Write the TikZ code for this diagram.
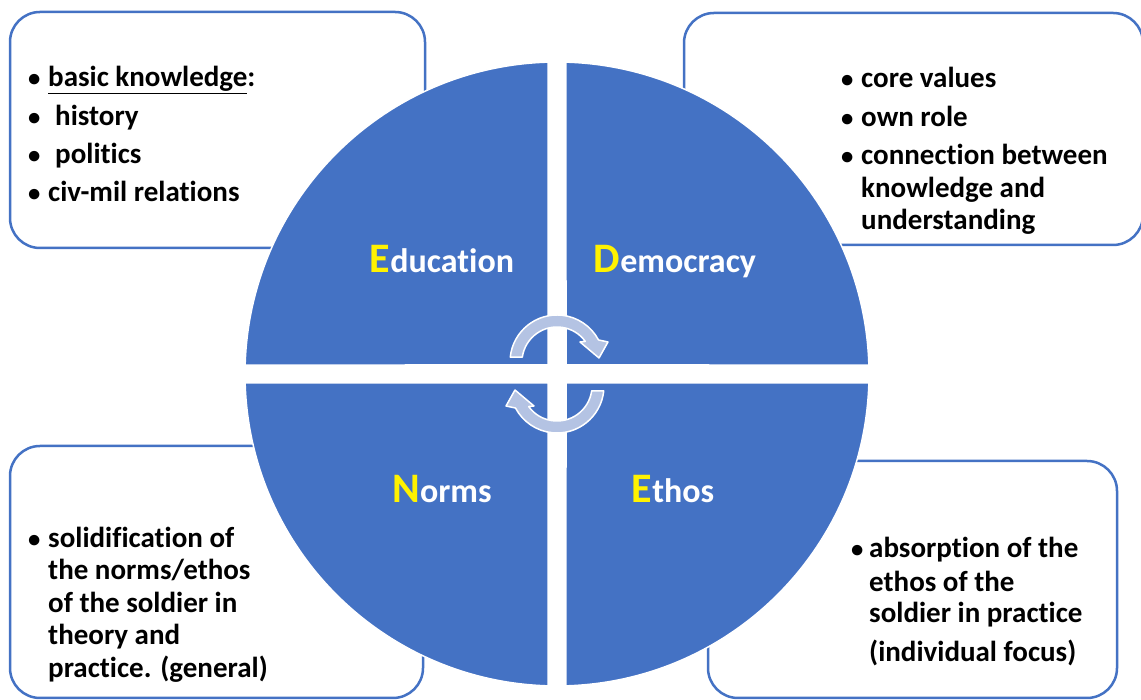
\documentclass[tikz,border=0pt]{standalone}
\usepackage{fontspec}
\setmainfont{Carlito}[Ligatures=NoCommon]
\usetikzlibrary{calc}
\usepackage{xcolor}
\definecolor{edblue}{HTML}{4472C4}
\definecolor{edpale}{HTML}{B4C3E3}

\begin{document}
\begin{tikzpicture}[x=1pt,y=1pt,
	box/.style={draw=edblue,line width=2.5pt,rounded corners=30pt,fill=white,inner sep=0pt},
	ln/.style={anchor=base west,inner sep=0pt,font=\bfseries\fontsize{29}{29}\selectfont},
	lbl/.style={anchor=base,inner sep=0pt,text=white,font=\bfseries\fontsize{34}{34}\selectfont}]
	\useasboundingbox (0,0) rectangle (1141,700);
	\coordinate (c) at (557,326);

	\node[box,minimum width=415,minimum height=236] (edubox) at (217.5,570) {};
	\node[box,minimum width=459,minimum height=232] (dembox) at (913.5,571) {};
	\node[box,minimum width=413,minimum height=252] (norbox) at (216.5,128) {};
	\node[box,minimum width=409,minimum height=237] (ethbox) at (912.5,120.5) {};

	\foreach \n/\x/\y in {edu-b1/28/613, edu-b2/28/574, edu-b3/28/536, edu-b4/28/498,
			dem-b1/841/612, dem-b2/841/573, dem-b3/841/535, nor-b1/28/152, eth-b1/851/142} {
		\node[ln] (\n) at (\x,\y) {\scalebox{0.85}{\textbullet}};
	};
	\foreach \n/\x/\y/\t in {
			edu-1/48/613/{\underline{basic knowledge}:}, edu-2/55/574/history,
			edu-3/55/536/politics, edu-4/48/498/civ-mil relations,
			dem-1/861/612/core values, dem-2/861/573/own role,
			dem-3/861/535/connection between, dem-4/861/502/knowledge and,
			dem-5/861/470/understanding,
			nor-1/48/152/solidification of, nor-2/48/120/{the norms/ethos},
			nor-3/48/87/of the soldier in, nor-4/48/55/theory and,
			nor-5/48/22/practice. (general),
			eth-1/869/142/absorption of the, eth-2/869/108/ethos of the,
			eth-3/869/77/soldier in practice, eth-4/869/38/(individual focus)} {
		\node[ln] (\n) at (\x,\y) {\t};
	};

	\foreach \sx/\sy/\a in {-1/1/90, 1/1/0, 1/-1/270, -1/-1/180} {
		\filldraw[fill=edblue,draw=white,line width=1.5pt]
			($(c)+(9*\sx,9*\sy)$) -- ($(c)+(\a+1.65:312)$)
			arc[start angle=\a+1.65,end angle=\a+88.35,radius=312] -- cycle;
	};

	\foreach \r in {0,180} {
		\begin{scope}[shift={(c)},rotate=\r,shift={(0,12)}]
			\filldraw[fill=edpale,draw=white,line width=1.5pt,line join=round]
				(174:47) arc[start angle=174,end angle=28,radius=47] -- (51,20) -- (42,4)
				-- (23,20) -- (36:35) arc[start angle=36,end angle=172,radius=35] -- cycle;
		\end{scope}
	};

	\foreach \nm/\f/\t/\x/\y in {edu/E/ducation/442/427, dem/D/emocracy/675/427,
			nor/N/orms/442/197, eth/E/thos/673/197} {
		\node[lbl] (\nm) at (\x,\y) {{\color{yellow}\fontsize{42}{42}\selectfont\f}\t};
	};
\end{tikzpicture}
\end{document}
